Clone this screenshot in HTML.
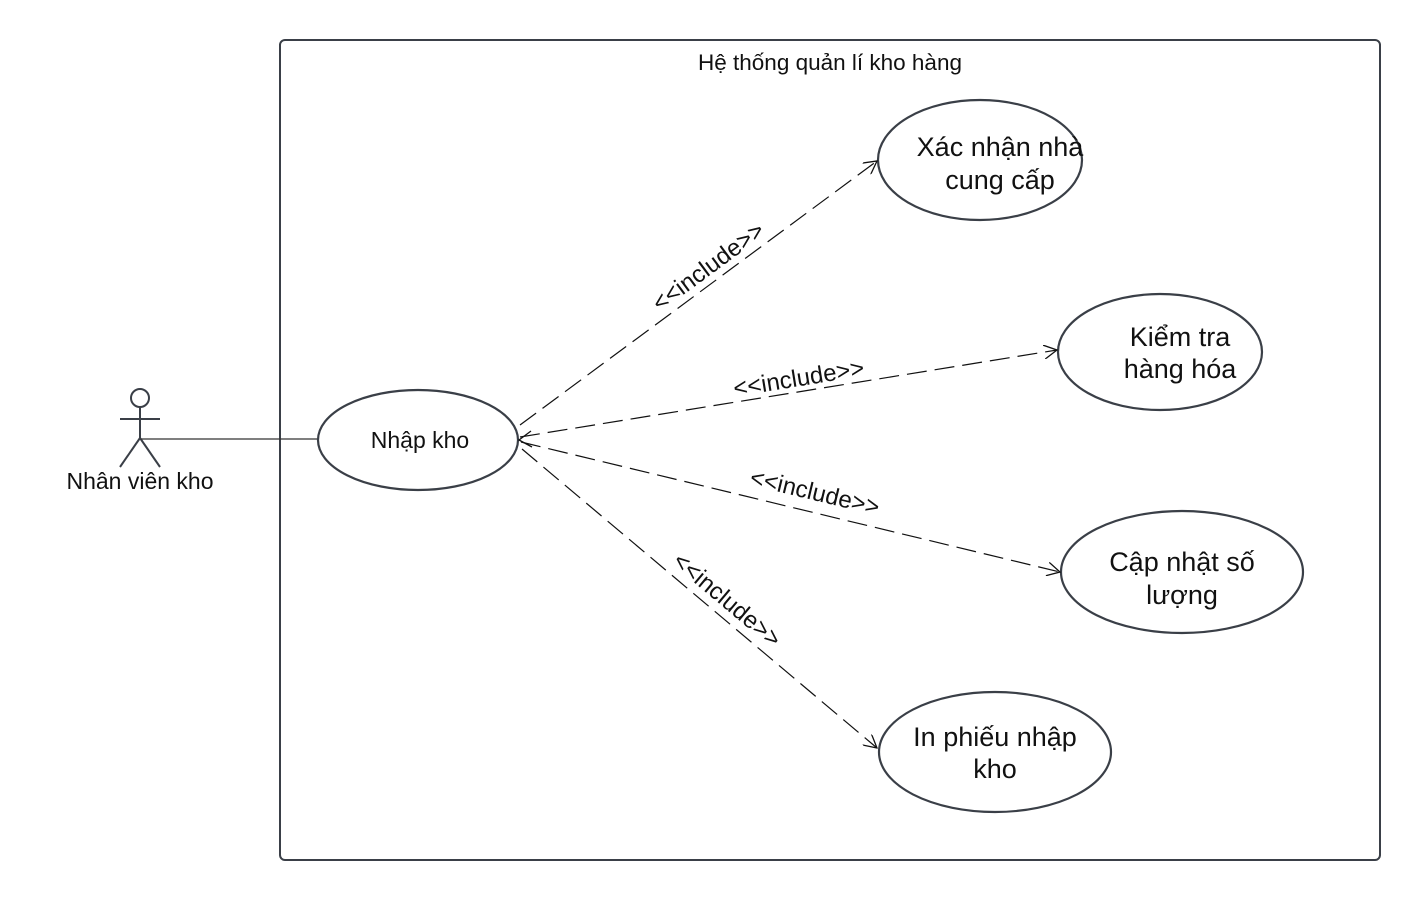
<!DOCTYPE html>
<html><head><meta charset="utf-8"><style>
html,body{margin:0;padding:0;background:#fff;}
svg{display:block;}
text{font-family:"Liberation Sans","DejaVu Sans",sans-serif;fill:#111;}
</style></head><body>
<svg width="1420" height="900" viewBox="0 0 1420 900" xmlns="http://www.w3.org/2000/svg">
<defs>
<marker id="a" viewBox="0 0 14 14" refX="13" refY="7" markerWidth="14" markerHeight="14" markerUnits="userSpaceOnUse" orient="auto">
<path d="M0,0 L13,7 L0,14" fill="none" stroke="#111" stroke-width="1.3"/></marker>
</defs>
<rect x="280" y="40" width="1100" height="820" rx="5" fill="none" stroke="#3a3f47" stroke-width="2"/>
<text x="830" y="70" font-size="22.5" text-anchor="middle">Hệ thống quản lí kho hàng</text>
<!-- actor -->
<g stroke="#3a3f47" stroke-width="2" fill="none">
<circle cx="140" cy="398" r="9"/>
<line x1="140" y1="407" x2="140" y2="438"/>
<line x1="120" y1="419" x2="160" y2="419"/>
<line x1="140" y1="438" x2="120" y2="467"/>
<line x1="140" y1="438" x2="160" y2="467"/>
</g>
<line x1="141" y1="439" x2="318" y2="439" stroke="#333" stroke-width="1.2"/>
<text x="140" y="489" font-size="23" text-anchor="middle">Nhân viên kho</text>
<!-- ellipses -->
<g fill="#fff" stroke="#3a3f47" stroke-width="2.2">
<ellipse cx="418" cy="440" rx="100" ry="50"/>
<ellipse cx="980" cy="160" rx="102" ry="60"/>
<ellipse cx="1160" cy="352" rx="102" ry="58"/>
<ellipse cx="1182" cy="572" rx="121" ry="61"/>
<ellipse cx="995" cy="752" rx="116" ry="60"/>
</g>
<text x="420" y="448" font-size="23" text-anchor="middle">Nhập kho</text>
<text x="1000" y="156" font-size="27" text-anchor="middle">Xác nhận nhà</text>
<text x="1000" y="189" font-size="27" text-anchor="middle">cung cấp</text>
<text x="1180" y="346" font-size="27" text-anchor="middle">Kiểm tra</text>
<text x="1180" y="378" font-size="27" text-anchor="middle">hàng hóa</text>
<text x="1182" y="571" font-size="27" text-anchor="middle">Cập nhật số</text>
<text x="1182" y="604" font-size="27" text-anchor="middle">lượng</text>
<text x="995" y="746" font-size="27" text-anchor="middle">In phiếu nhập</text>
<text x="995" y="778" font-size="27" text-anchor="middle">kho</text>
<!-- connectors -->
<g stroke="#111" stroke-width="1.2" fill="none" stroke-dasharray="20 8">
<line x1="520" y1="425" x2="877" y2="161" marker-end="url(#a)"/>
<line x1="520" y1="437" x2="1057" y2="350" marker-end="url(#a)"/>
<line x1="521" y1="442" x2="1060" y2="572" marker-end="url(#a)"/>
<line x1="522" y1="449" x2="877" y2="748" marker-end="url(#a)"/>
</g>
<path d="M531,431 L519,440 L532,447" fill="none" stroke="#111" stroke-width="1.3"/>
<text font-size="24" text-anchor="middle" transform="translate(713,273) rotate(-36.5)">&lt;&lt;include&gt;&gt;</text>
<text font-size="24" text-anchor="middle" transform="translate(800,386) rotate(-9.2)">&lt;&lt;include&gt;&gt;</text>
<text font-size="24" text-anchor="middle" transform="translate(813,500) rotate(13.5)">&lt;&lt;include&gt;&gt;</text>
<text font-size="24" text-anchor="middle" transform="translate(722,606) rotate(40)">&lt;&lt;include&gt;&gt;</text>
</svg>
</body></html>
